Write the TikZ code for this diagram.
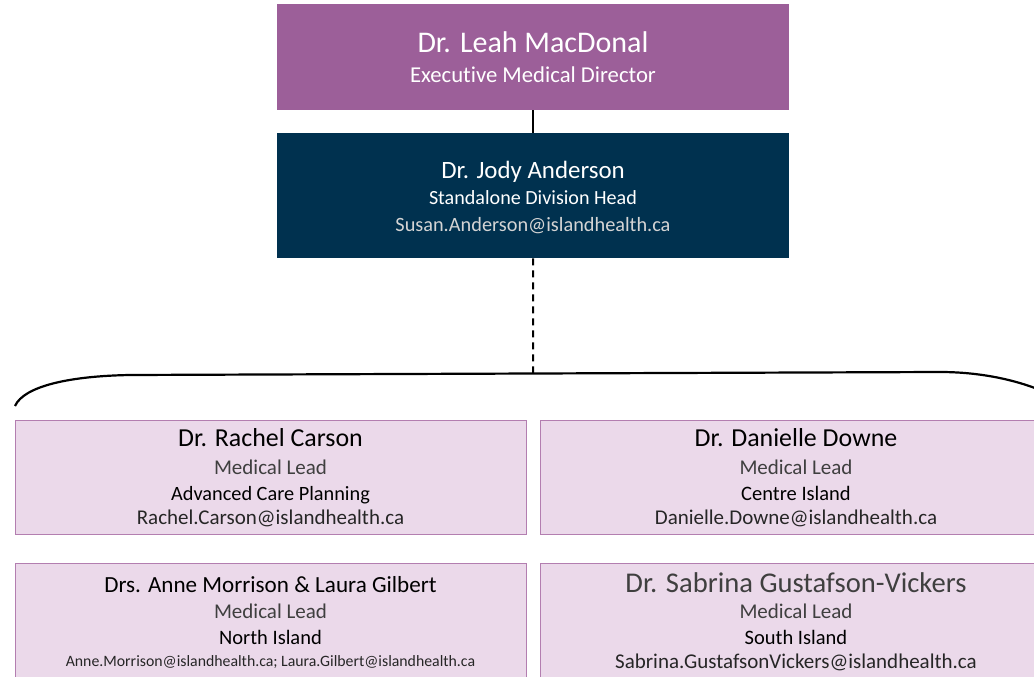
\documentclass[tikz,border=0pt]{standalone}
\usepackage{fontspec}
\setmainfont{Carlito}[Ligatures=CommonOff]
\definecolor{toppurple}{HTML}{9C5F99}
\definecolor{navy}{HTML}{00314F}
\definecolor{leadfill}{HTML}{EBD9EA}
\definecolor{leadline}{HTML}{B37EB0}
\definecolor{lightgrey}{HTML}{D4D4D4}
\definecolor{midgrey}{HTML}{3F3F3F}
\newcommand{\fsz}[1]{\fontsize{#1}{#1}\selectfont}
\tikzset{
  boxbase/.style={draw=none, rectangle, inner sep=0pt, anchor=north west},
  leadbox/.style={boxbase, fill=leadfill, draw=leadline, line width=1pt, minimum width=511pt, minimum height=114pt},
  headbox/.style={boxbase, minimum width=512pt},
  txt/.style={anchor=base, inner sep=0pt},
  conn/.style={line width=2pt, black},
}
\begin{document}
\begin{tikzpicture}[x=1pt,y=-1pt]
\useasboundingbox (0,0) rectangle (1034,677);
\clip (0,0) rectangle (1034,677);
% head boxes
\node[headbox, fill=toppurple, minimum height=106pt] (top) at (277,4) {};
\node[headbox, fill=navy, minimum height=125pt] (mid) at (277,133) {};
\node[txt, text=white] (topname) at (533,52.5) {\fsz{30}Dr. Leah MacDonal};
\node[txt, text=white] (toprole) at (533,83) {\fsz{22.7}Executive Medical Director};
\node[txt, text=white] (midname) at (533,178) {\fsz{24.9}Dr. Jody Anderson};
\node[txt, text=white] (midrole) at (533,204.5) {\fsz{20.1}Standalone Division Head};
\node[txt, text=lightgrey] (midmail) at (533,231) {\fsz{20.3}Susan.Anderson@islandhealth.ca};
% connectors
\coordinate (bracetop) at (533,373.5);
\draw[conn] (top.south) -- (mid.north);
\draw[conn, dash pattern=on 7pt off 5pt] (mid.south) -- (bracetop);
% brace curve
\draw[conn, line width=2.2pt] (15,406) .. controls (24,386) and (70,376) .. (130,375)
  -- (940,372) .. controls (975,372) and (1010,378) .. (1040,390);
% lead boxes
\node[leadbox] (b1) at (15,420) {};
\node[leadbox] (b2) at (540,420) {};
\node[leadbox, minimum height=120pt] (b3) at (15,563) {};
\node[leadbox, minimum height=120pt] (b4) at (540,563) {};
% box 1
\node[txt] (b1name) at (270.5,446) {\fsz{25.9}Dr. Rachel Carson};
\node[txt, text=midgrey] (b1role) at (270.5,474) {\fsz{21}Medical Lead};
\node[txt] (b1area) at (270.5,500) {\fsz{20.3}Advanced Care Planning};
\node[txt, text=black!85] (b1mail) at (270.5,524) {\fsz{21}Rachel.Carson@islandhealth.ca};
% box 2
\node[txt] (b2name) at (796,446) {\fsz{25.9}Dr. Danielle Downe};
\node[txt, text=midgrey] (b2role) at (796,474) {\fsz{21}Medical Lead};
\node[txt] (b2area) at (796,500) {\fsz{20.5}Centre Island};
\node[txt, text=black!85] (b2mail) at (796,524) {\fsz{21}Danielle.Downe@islandhealth.ca};
% box 3
\node[txt] (b3name) at (270.5,592) {\fsz{23.1}Drs. Anne Morrison \& Laura Gilbert};
\node[txt, text=midgrey] (b3role) at (270.5,618.5) {\fsz{21}Medical Lead};
\node[txt] (b3area) at (270.5,644.5) {\fsz{20.5}North Island};
\node[txt, text=black!85] (b3mail) at (270.5,666) {\fsz{15.8}Anne.Morrison@islandhealth.ca; Laura.Gilbert@islandhealth.ca};
% box 4
\node[txt, text=midgrey] (b4name) at (796,592) {\fsz{28.6}Dr. Sabrina Gustafson-Vickers};
\node[txt, text=midgrey] (b4role) at (796,618.5) {\fsz{21}Medical Lead};
\node[txt] (b4area) at (796,644.5) {\fsz{20.5}South Island};
\node[txt, text=black!85] (b4mail) at (796,668) {\fsz{21}Sabrina.GustafsonVickers@islandhealth.ca};
\end{tikzpicture}
\end{document}
